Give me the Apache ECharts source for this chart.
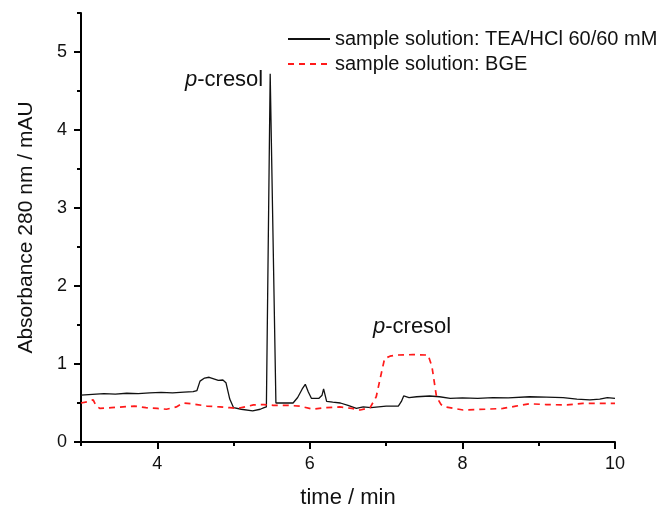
<!DOCTYPE html>
<html>
<head>
<meta charset="utf-8">
<script src="https://cdn.jsdelivr.net/npm/echarts@6/dist/echarts.min.js"></script>
<style>html,body{margin:0;padding:0;background:#fff}#c{width:661px;height:508px}</style>
</head>
<body>
<div id="c"></div>
<script>
// Series 1: sample solution TEA/HCl 60/60 mM
var teaTime = [3.00,3.15,3.30,3.45,3.60,3.75,3.90,4.05,4.20,4.35,4.47,4.52,4.56,4.62,4.68,4.74,4.80,4.86,4.90,4.95,5.00,5.10,5.25,5.35,5.40,5.43,5.48,5.555,5.58,5.70,5.78,5.84,5.90,5.94,5.98,6.02,6.12,6.16,6.18,6.20,6.22,6.30,6.40,6.50,6.61,6.70,6.80,6.90,7.00,7.16,7.20,7.23,7.30,7.40,7.57,7.70,7.84,8.00,8.20,8.40,8.60,8.88,9.10,9.32,9.50,9.67,9.80,9.90,10.00];
var teaAbs  = [0.60,0.61,0.62,0.615,0.625,0.62,0.63,0.635,0.63,0.64,0.645,0.66,0.78,0.82,0.83,0.81,0.79,0.795,0.76,0.55,0.44,0.42,0.40,0.42,0.44,0.45,4.72,0.50,0.48,0.50,0.50,0.57,0.68,0.74,0.64,0.56,0.56,0.60,0.68,0.60,0.52,0.51,0.50,0.47,0.43,0.45,0.44,0.45,0.46,0.46,0.52,0.59,0.57,0.58,0.59,0.58,0.56,0.565,0.56,0.57,0.565,0.58,0.575,0.57,0.55,0.54,0.55,0.57,0.56];
// Series 2: sample solution BGE
var bgeTime = [3.00,3.10,3.16,3.20,3.25,3.40,3.55,3.70,3.85,4.00,4.12,4.25,4.34,4.45,4.52,4.65,4.82,4.95,5.04,5.15,5.26,5.40,5.52,5.70,5.87,6.04,6.20,6.39,6.55,6.66,6.79,6.87,6.93,6.98,7.05,7.14,7.35,7.55,7.60,7.66,7.72,7.77,8.01,8.30,8.53,8.70,8.88,9.10,9.37,9.58,10.00];
var bgeAbs  = [0.50,0.52,0.54,0.46,0.43,0.44,0.45,0.46,0.44,0.43,0.42,0.45,0.50,0.49,0.48,0.46,0.45,0.44,0.43,0.45,0.475,0.48,0.47,0.47,0.46,0.42,0.44,0.45,0.43,0.41,0.44,0.58,0.85,1.07,1.10,1.115,1.12,1.115,0.97,0.58,0.48,0.45,0.41,0.42,0.43,0.46,0.49,0.48,0.475,0.495,0.495];
var seriesNames = ['sample solution: TEA/HCl 60/60 mM', 'sample solution: BGE'];
var xMajor = [4,6,8,10];
var xMinor = [3,5,7,9];
var yMajor = [0,1,2,3,4,5];
var yMinor = [0.5,1.5,2.5,3.5,4.5,5.5];

function pairs(t, v){ return t.map(function(x,i){ return [x, v[i]]; }); }

var font = 'Liberation Sans, Arial, sans-serif';
var chart = echarts.init(document.getElementById('c'), null, {renderer:'canvas'});
var axisLine = {show:true, lineStyle:{color:'#000', width:2}};
chart.setOption({
  animation:false,
  backgroundColor:'#fff',
  grid:{left:81, right:46, top:13, bottom:66, outerBoundsMode:'none', containLabel:false},
  legend:{
    orient:'vertical', left:282, top:24, itemWidth:42, itemHeight:14, itemGap:5,
    itemStyle:{opacity:0},
    textStyle:{fontFamily:font, fontSize:20, color:'#111'},
    data:[seriesNames[0], seriesNames[1]]
  },
  xAxis:[{
    type:'value', min:3, max:10, position:'bottom',
    name:'time / min', nameLocation:'middle', nameGap:45,
    nameTextStyle:{fontFamily:font, fontSize:22, color:'#111'},
    axisLine:axisLine,
    axisTick:{show:true, length:7, inside:false, customValues:xMajor, lineStyle:{color:'#000', width:2}},
    axisLabel:{customValues:xMajor, margin:13, fontFamily:font, fontSize:18, color:'#111'},
    splitLine:{show:false}
  },{
    type:'value', min:3, max:10, position:'bottom',
    axisLine:{show:false},
    axisTick:{show:true, length:4, customValues:xMinor, lineStyle:{color:'#000', width:2}},
    axisLabel:{show:false},
    splitLine:{show:false}
  }],
  yAxis:[{
    type:'value', min:0, max:5.5, position:'left',
    name:'Absorbance 280 nm / mAU', nameLocation:'middle', nameGap:44,
    nameTextStyle:{fontFamily:font, fontSize:21, color:'#111'},
    axisLine:axisLine,
    axisTick:{show:true, length:7, customValues:yMajor, lineStyle:{color:'#000', width:2}},
    axisLabel:{customValues:yMajor, margin:14, fontFamily:font, fontSize:18, color:'#111'},
    splitLine:{show:false}
  },{
    type:'value', min:0, max:5.5, position:'left',
    axisLine:{show:false},
    axisTick:{show:true, length:4, customValues:yMinor, lineStyle:{color:'#000', width:2}},
    axisLabel:{show:false},
    splitLine:{show:false}
  }],
  series:[{
    name:seriesNames[0], type:'line', data:pairs(teaTime, teaAbs),
    xAxisIndex:0, yAxisIndex:0,
    showSymbol:false, symbol:'none',
    lineStyle:{color:'#111', width:1.3},
    itemStyle:{color:'#111'}
  },{
    name:seriesNames[1], type:'line', data:pairs(bgeTime, bgeAbs),
    xAxisIndex:0, yAxisIndex:0,
    showSymbol:false, symbol:'none',
    lineStyle:{color:'#ff1a1a', width:1.7, type:[6,5]},
    itemStyle:{color:'#ff1a1a'}
  }],
  graphic:[{
    type:'text', left:185, top:69,
    style:{rich:{i:{fontStyle:'italic', fontFamily:font, fontSize:22, fill:'#111'}, n:{fontFamily:font, fontSize:22, fill:'#111'}},
      text:'{i|p}{n|-cresol}'}
  },{
    type:'text', left:373, top:316,
    style:{rich:{i:{fontStyle:'italic', fontFamily:font, fontSize:22, fill:'#111'}, n:{fontFamily:font, fontSize:22, fill:'#111'}},
      text:'{i|p}{n|-cresol}'}
  }]
});
</script>
</body>
</html>
